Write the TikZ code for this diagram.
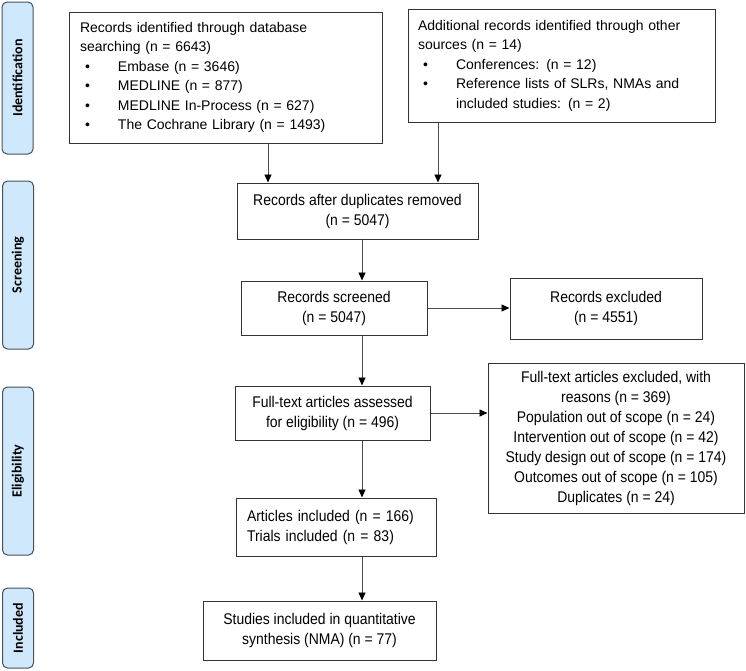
\documentclass[tikz,border=0pt]{standalone}
\usepackage{fontspec}
\setmainfont{Liberation Sans}
\newfontfamily\narrowfont[FakeStretch=0.9]{Liberation Sans}
\newfontfamily\phasefont{Carlito}
\usepackage{tikz}
\usetikzlibrary{arrows.meta}
\definecolor{phasefill}{RGB}{208,232,252}
\definecolor{phaseline}{RGB}{70,80,90}

\newcommand{\bul}[1]{\hspace*{5pt}\makebox[33pt][l]{\textbullet}#1}

\begin{document}
\begin{tikzpicture}[x=1pt, y=-1pt,
  phase/.style={draw=phaseline, fill=phasefill, rounded corners=5pt, rotate=90, line width=1pt, minimum height=31pt, inner sep=0pt, font=\phasefont\bfseries\fontsize{14}{16}\selectfont},
  listbox/.style={draw=black!80, line width=1pt, inner xsep=0pt, align=left, font=\fontsize{14}{19.5}\selectfont},
  flowbox/.style={draw=black!80, line width=1pt, inner sep=0pt, align=center, font=\narrowfont\fontsize{15.5}{20}\selectfont},
  arr/.style={draw=black!70, line width=0.9pt, -{Triangle[length=8pt,width=7pt,color=black]}}]
  \useasboundingbox (0,0) rectangle (746,670);
  \node[phase, minimum width=152pt] (ident) at (17.5,78) {Identification};
  \node[phase, minimum width=168pt] (screen) at (18,265) {Screening};
  \node[phase, minimum width=168pt] (elig) at (18,471) {Eligibility};
  \node[phase, minimum width=80pt] (incl) at (18,628) {Included};

  \node[listbox, minimum width=313pt, minimum height=131pt, text width=291pt] (db) at (225.5,77.5)
    {Records identified through database\\
     searching (n = 6643)\\
     \bul{Embase (n = 3646)}\\
     \bul{MEDLINE (n = 877)}\\
     \bul{MEDLINE In-Process (n = 627)}\\
     \bul{The Cochrane Library (n = 1493)}};
  \node[listbox, minimum width=307pt, minimum height=113pt, text width=287pt] (other) at (561.5,65.5)
    {Additional records identified through other\\
     sources (n = 14)\\
     \bul{Conferences: (n = 12)}\\
     \bul{Reference lists of SLRs, NMAs and}\\
     \hspace*{38pt}included studies: (n = 2)};

  \node[flowbox, minimum width=241pt, minimum height=56pt] (dup) at (357.5,211) {Records after duplicates removed\\(n = 5047)};
  \node[flowbox, minimum width=186pt, minimum height=54pt] (scr) at (334,308) {Records screened\\(n = 5047)};
  \node[flowbox, minimum width=192pt, minimum height=61pt] (excl) at (606,308.5) {Records excluded\\(n = 4551)};
  \node[flowbox, minimum width=195pt, minimum height=54pt] (fta) at (332.5,413) {Full-text articles assessed\\for eligibility (n = 496)};
  \node[flowbox, minimum width=256pt, minimum height=150pt] (ftex) at (616,438)
    {Full-text articles excluded, with\\reasons (n = 369)\\Population out of scope (n = 24)\\Intervention out of scope (n = 42)\\Study design out of scope (n = 174)\\Outcomes out of scope (n = 105)\\Duplicates (n = 24)};
  \node[flowbox, align=left, minimum width=200pt, minimum height=58pt, text width=178pt] (art) at (336,527) {Articles included (n = 166)\\Trials included (n = 83)};
  \node[flowbox, minimum width=233pt, minimum height=59pt] (nma) at (319.5,630.5) {Studies included in quantitative\\synthesis (NMA) (n = 77)};

  \coordinate (spine) at (362,0);
  \draw[arr] ([xshift=42.5pt]db.south) -- ([xshift=42.5pt]db.south |- dup.north);
  \draw[arr] ([xshift=-123.5pt]other.south) -- ([xshift=-123.5pt]other.south |- dup.north);
  \draw[arr] (dup.south -| spine) -- (scr.north -| spine);
  \draw[arr] (scr.east) -- (excl.west |- scr.east);
  \draw[arr] (scr.south -| spine) -- (fta.north -| spine);
  \draw[arr] (fta.east) -- (ftex.west |- fta.east);
  \draw[arr] (fta.south -| spine) -- (art.north -| spine);
  \draw[arr] (art.south -| spine) -- (nma.north -| spine);
\end{tikzpicture}
\end{document}
